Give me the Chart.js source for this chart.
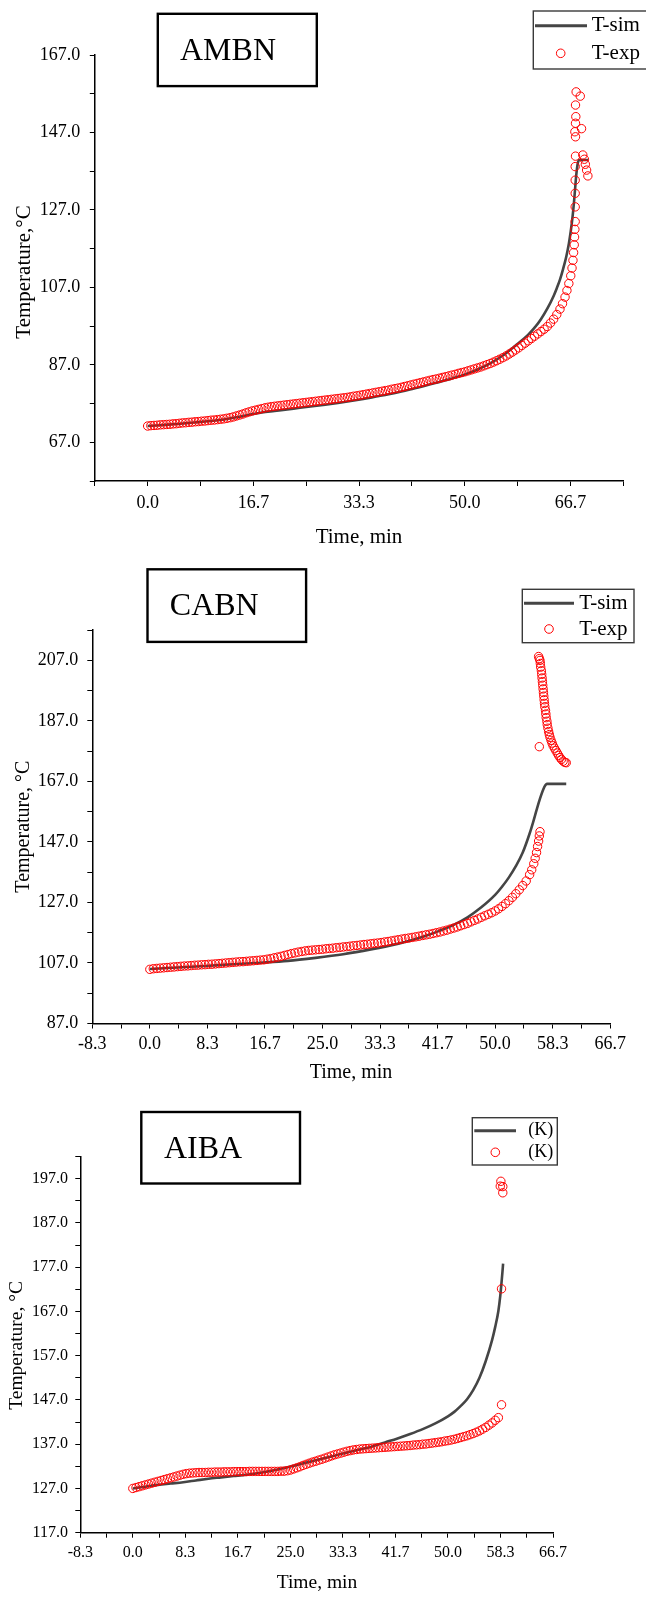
<!DOCTYPE html>
<html>
<head>
<meta charset="utf-8">
<script src="https://cdn.jsdelivr.net/npm/chart.js@4.4.0/dist/chart.umd.min.js"></script>
<style>
html,body{margin:0;padding:0;background:#fff;}
#wrap{position:relative;width:646px;height:1597px;overflow:hidden;background:#fff;}
canvas{position:absolute;left:0;}
</style>
</head>
<body>
<div id="wrap">
<canvas id="c1" width="646" height="550" style="top:0px;width:646px;height:550px"></canvas>
<canvas id="c2" width="646" height="540" style="top:550px;width:646px;height:540px"></canvas>
<canvas id="c3" width="646" height="507" style="top:1090px;width:646px;height:507px"></canvas>
</div>
<script>
// ================= DATA =================
// ---- AMBN (panel 1) ----
const ambnExpTime = [
0,0.5,1,1.5,2,2.5,3,3.5,4,4.5,
5,5.5,6,6.5,7,7.5,8,8.5,9,9.5,
10,10.5,11,11.5,12,12.5,13,13.5,14,14.5,
15,15.5,16,16.5,17,17.5,18,18.5,19,19.5,
20,20.5,21,21.5,22,22.5,23,23.5,24,24.5,
25,25.5,26,26.5,27,27.5,28,28.5,29,29.5,
30,30.5,31,31.5,32,32.5,33,33.5,34,34.5,
35,35.5,36,36.5,37,37.5,38,38.5,39,39.5,
40,40.5,41,41.5,42,42.5,43,43.5,44,44.5,
45,45.5,46,46.5,47,47.5,48,48.5,49,49.5,
50,50.5,51,51.5,52,52.5,53,53.5,54,54.5,
55,55.5,56,56.5,57,57.5,58,58.5,59,59.5,
60,60.5,61,61.5,62,62.5,63,63.5,64,64.5,
65,65.4,65.8,66.1,66.4,66.7,66.9,67.05,67.15,67.25,67.3,67.35,67.4,
67.4,67.4,67.4,67.4,67.45,67.45,67.35,67.45,67.5,67.45,67.55,68.2,68.4,68.6,68.85,69.0,69.2,69.4
];
const ambnExpTemp = [
71.2,71.3,71.35,71.4,71.5,71.55,71.6,71.65,71.75,71.8,
71.9,72.0,72.05,72.15,72.2,72.3,72.35,72.45,72.5,72.6,
72.7,72.75,72.85,72.95,73.05,73.2,73.35,73.55,73.8,74.05,
74.3,74.6,74.85,75.1,75.3,75.5,75.7,75.9,76.05,76.2,
76.3,76.4,76.5,76.6,76.7,76.8,76.9,77.0,77.1,77.2,
77.3,77.4,77.5,77.6,77.7,77.8,77.9,78.0,78.1,78.2,
78.3,78.4,78.5,78.6,78.75,78.9,79.0,79.15,79.3,79.45,
79.6,79.75,79.9,80.05,80.2,80.35,80.5,80.7,80.85,81.0,
81.2,81.4,81.6,81.8,82.0,82.2,82.4,82.6,82.8,83.0,
83.2,83.35,83.55,83.75,83.95,84.15,84.35,84.55,84.8,85.0,
85.2,85.45,85.7,85.95,86.2,86.45,86.75,87.05,87.35,87.7,
88.05,88.45,88.85,89.3,89.8,90.3,90.85,91.4,92.0,92.6,
93.2,93.8,94.4,95.0,95.6,96.2,96.9,97.8,98.8,100.0,
101.4,102.8,104.5,106.2,108.0,110.0,112.0,114.0,116.0,118.0,120.0,122.0,124.0,
127.8,131.3,134.7,138.2,140.9,145.9,147.2,149.4,151.1,154.1,157.5,156.4,148.0,141.2,140.1,138.8,137.3,135.8
];
const ambnSimTime = [0,2,4,6,8,10,12,14,16,18,20,22,24,26,28,30,32,34,36,38,40,42,44,46,48,50,52,54,56,58,60,61,62,63,64,64.5,65,65.5,66,66.4,66.7,67,67.2,67.4,67.6,67.8,68.0,69.5];
const ambnSimTemp = [71.2,71.4,71.65,71.9,72.2,72.5,72.9,73.45,74.1,74.7,75.1,75.5,75.9,76.3,76.7,77.15,77.65,78.2,78.8,79.4,80.1,80.9,81.7,82.6,83.5,84.5,85.8,87.4,89.4,92.0,94.8,96.6,98.8,101.5,104.8,106.8,109.0,111.8,115.0,118.3,121.5,125.5,128.8,132.8,136.5,139.0,139.9,139.9];
const ambnXMajor = [0, 16.667, 33.333, 50, 66.667];
const ambnXLabels = ['0.0','16.7','33.3','50.0','66.7'];
const ambnXMinor = [-8.333, 8.333, 25, 41.667, 58.333, 75];
const ambnYMajor = [67, 87, 107, 127, 147, 167];
const ambnYLabels = ['67.0','87.0','107.0','127.0','147.0','167.0'];
const ambnYMinor = [57, 77, 97, 117, 137, 157];

// ---- CABN (panel 2) ----
const cabnExpTime = [
0,0.5,1,1.5,2,2.5,3,3.5,4,4.5,
5,5.5,6,6.5,7,7.5,8,8.5,9,9.5,
10,10.5,11,11.5,12,12.5,13,13.5,14,14.5,
15,15.5,16,16.5,17,17.5,18,18.5,19,19.5,
20,20.5,21,21.5,22,22.5,23,23.5,24,24.5,
25,25.5,26,26.5,27,27.5,28,28.5,29,29.5,
30,30.5,31,31.5,32,32.5,33,33.5,34,34.5,
35,35.5,36,36.5,37,37.5,38,38.5,39,39.5,
40,40.5,41,41.5,42,42.5,43,43.5,44,44.5,
45,45.5,46,46.5,47,47.5,48,48.5,49,49.5,
50,50.5,51,51.5,52,52.5,53,53.5,54,54.5,
55,55.3,55.6,55.8,56.0,56.15,56.3,56.4,56.5,
56.3,56.4,56.5,56.55,56.6,56.7,56.75,56.8,56.85,56.9,56.95,57.0,57.05,57.1,57.15,57.2,57.3,57.35,57.4,57.5,57.55,57.65,57.75,57.85,57.95,58.1,58.25,58.4,58.6,58.8,59.0,59.2,59.4,59.6,59.85,60.1,60.3,
56.4
];
const cabnExpTemp = [
104.9,105.1,105.2,105.3,105.4,105.5,105.6,105.7,105.8,105.9,
106.0,106.05,106.15,106.25,106.3,106.4,106.45,106.55,106.6,106.7,
106.8,106.9,107.0,107.1,107.2,107.3,107.4,107.45,107.55,107.65,
107.75,107.85,107.95,108.05,108.25,108.45,108.7,108.95,109.2,109.5,
109.8,110.1,110.35,110.6,110.8,111.0,111.15,111.25,111.35,111.45,
111.55,111.7,111.8,111.9,112.05,112.15,112.3,112.4,112.55,112.7,
112.8,112.95,113.1,113.2,113.35,113.5,113.6,113.75,113.95,114.1,
114.3,114.5,114.7,114.9,115.1,115.25,115.45,115.65,115.85,116.1,
116.3,116.5,116.75,117.0,117.25,117.55,117.85,118.2,118.55,118.9,
119.3,119.7,120.1,120.6,121.1,121.55,122.1,122.6,123.1,123.6,
124.2,124.9,125.7,126.6,127.6,128.7,129.9,131.2,132.6,134.1,
136.2,137.8,139.8,141.6,143.5,145.5,147.3,149.0,150.4,
208.3,207.6,207.0,206.0,204.8,203.6,202.4,201.2,200.0,198.8,197.6,196.4,195.2,194.0,192.8,191.7,190.5,189.3,188.1,186.9,185.8,184.6,183.5,182.5,181.6,180.6,179.7,178.8,178.0,177.2,176.4,175.6,174.9,174.3,173.7,173.3,173.2,
178.5
];
const cabnSimTime = [0,4,8,12,16,20,24,28,32,36,38,40,42,44,46,48,50,51,52,53,54,55,55.5,56,56.5,57,57.3,57.5,60.3];
const cabnSimTemp = [105.0,105.5,106.0,106.6,107.1,107.7,108.7,109.9,111.5,113.4,114.6,116.0,117.7,119.6,122.1,125.4,129.5,132.2,135.3,139.0,143.5,149.8,153.5,157.5,161.3,164.5,165.8,166.2,166.2];
const cabnXMajor = [-8.333, 0, 8.333, 16.667, 25, 33.333, 41.667, 50, 58.333, 66.667];
const cabnXLabels = ['-8.3','0.0','8.3','16.7','25.0','33.3','41.7','50.0','58.3','66.7'];
const cabnXMinor = [-4.167, 4.167, 12.5, 20.833, 29.167, 37.5, 45.833, 54.167, 62.5];
const cabnYMajor = [87, 107, 127, 147, 167, 187, 207];
const cabnYLabels = ['87.0','107.0','127.0','147.0','167.0','187.0','207.0'];
const cabnYMinor = [97, 117, 137, 157, 177, 197, 217];

// ---- AIBA (panel 3) ----
const aibaExpTime = [
0,0.5,1,1.5,2,2.5,3,3.5,4,4.5,
5,5.5,6,6.5,7,7.5,8,8.5,9,9.5,
10,10.5,11,11.5,12,12.5,13,13.5,14,14.5,
15,15.5,16,16.5,17,17.5,18,18.5,19,19.5,
20,20.5,21,21.5,22,22.5,23,23.5,24,24.5,
25,25.5,26,26.5,27,27.5,28,28.5,29,29.5,
30,30.5,31,31.5,32,32.5,33,33.5,34,34.5,
35,35.5,36,36.5,37,37.5,38,38.5,39,39.5,
40,40.5,41,41.5,42,42.5,43,43.5,44,44.5,
45,45.5,46,46.5,47,47.5,48,48.5,49,49.5,
50,50.5,51,51.5,52,52.5,53,53.5,54,54.5,
55,55.5,56,56.5,57,57.5,58,
58.5,58.5,58.4,58.3,58.7,58.7
];
const aibaExpTemp = [
127.0,127.2,127.4,127.6,127.8,128.0,128.2,128.4,128.6,128.8,
129.0,129.2,129.4,129.6,129.8,130.0,130.2,130.35,130.45,130.5,
130.55,130.6,130.6,130.6,130.65,130.65,130.7,130.7,130.7,130.75,
130.75,130.75,130.8,130.8,130.8,130.8,130.8,130.85,130.85,130.85,
130.85,130.85,130.85,130.85,130.85,130.85,130.85,130.9,130.9,131.0,
131.15,131.4,131.65,131.9,132.2,132.45,132.7,132.95,133.15,133.4,
133.6,133.85,134.1,134.35,134.6,134.8,135.0,135.2,135.4,135.55,
135.7,135.8,135.9,135.95,136.0,136.05,136.1,136.15,136.2,136.25,
136.3,136.35,136.4,136.45,136.5,136.55,136.6,136.65,136.7,136.8,
136.85,136.9,137.0,137.05,137.15,137.25,137.35,137.45,137.55,137.7,
137.8,137.95,138.1,138.3,138.5,138.7,138.9,139.15,139.4,139.7,
140.0,140.4,140.8,141.3,141.8,142.4,143.0,
145.9,172.1,196.4,195.3,195.2,193.8
];
const aibaSimTime = [0,2,4,6,8,10,12,14,16,18,20,22,24,26,28,30,32,34,36,38,40,42,44,46,48,50,51,52,53,54,55,56,57,57.5,58,58.3,58.5,58.65,58.75];
const aibaSimTemp = [127.0,127.4,127.8,128.1,128.4,128.8,129.2,129.5,129.8,130.1,130.5,131.0,131.6,132.3,133.0,133.7,134.4,135.1,135.8,136.5,137.4,138.3,139.3,140.4,141.7,143.3,144.3,145.6,147.1,149.2,152.0,155.8,160.5,163.5,167.1,170.5,173.5,176.0,177.8];
const aibaXMajor = [-8.333, 0, 8.333, 16.667, 25, 33.333, 41.667, 50, 58.333, 66.667];
const aibaXLabels = ['-8.3','0.0','8.3','16.7','25.0','33.3','41.7','50.0','58.3','66.7'];
const aibaXMinor = [-4.167, 4.167, 12.5, 20.833, 29.167, 37.5, 45.833, 54.167, 62.5];
const aibaYMajor = [117, 127, 137, 147, 157, 167, 177, 187, 197];
const aibaYLabels = ['117.0','127.0','137.0','147.0','157.0','167.0','177.0','187.0','197.0'];
const aibaYMinor = [122, 132, 142, 152, 162, 172, 182, 192, 202];

// ================= RENDERING =================
Chart.defaults.font.family = '"Liberation Serif", "Times New Roman", serif';
Chart.defaults.color = '#000';

const decorPlugin = {
  id: 'decor',
  afterDraw(chart, args, o) {
    const ctx = chart.ctx;
    const off = o.offset;
    ctx.save();
    // sample title box
    const b = o.box;
    ctx.lineWidth = 2.4; ctx.strokeStyle = '#000';
    ctx.strokeRect(b.x1, b.y1 - off, b.x2 - b.x1, b.y2 - b.y1);
    ctx.fillStyle = '#000';
    ctx.font = '32px "Liberation Serif"';
    ctx.textBaseline = 'middle'; ctx.textAlign = 'left';
    ctx.fillText(b.text, b.tx, b.ty - off);
    // legend
    const L = o.legend;
    const ds = chart.data.datasets;
    const exp = ds[0], sim = ds[1];
    ctx.lineWidth = 1.4; ctx.strokeStyle = '#3a3a3a';
    ctx.strokeRect(L.x1, L.y1 - off, L.x2 - L.x1, L.y2 - L.y1);
    ctx.strokeStyle = sim.borderColor; ctx.lineWidth = 3;
    ctx.beginPath(); ctx.moveTo(L.lx1, L.ly1 - off); ctx.lineTo(L.lx2, L.ly1 - off); ctx.stroke();
    ctx.strokeStyle = exp.pointBorderColor; ctx.lineWidth = 1;
    ctx.beginPath(); ctx.arc(L.cx, L.ly2 - off, 4.3, 0, Math.PI * 2); ctx.stroke();
    ctx.fillStyle = '#000'; ctx.font = L.font;
    ctx.fillText(sim.label, L.tx, L.ly1 - off);
    ctx.fillText(exp.label, L.tx, L.ly2 - off);
    // axis titles
    ctx.font = o.axisFont; ctx.textAlign = 'center';
    ctx.fillText(o.xTitle, o.xtx, o.xty - off);
    ctx.translate(o.ytx, o.yty - off);
    ctx.rotate(-Math.PI / 2);
    ctx.fillText(o.yTitle, 0, 0);
    ctx.restore();
  }
};

function labelFor(v, majors, labels) {
  for (let i = 0; i < majors.length; i++) {
    if (Math.abs(majors[i] - v) < 1e-6) return labels[i];
  }
  return '';
}

function makeChart(id, c) {
  const canvas = document.getElementById(id);
  const H = canvas.height;
  const exp = c.expTime.map((t, i) => ({ x: t, y: c.expTemp[i] }));
  const sim = c.simTime.map((t, i) => ({ x: t, y: c.simTemp[i] }));
  const xTicks = c.xMajor.concat(c.xMinor).sort((a, b) => a - b);
  const yTicks = c.yMajor.concat(c.yMinor).sort((a, b) => a - b);
  const tickFont = { family: '"Liberation Serif"', size: c.tickSize };
  const grid = { display: true, drawOnChartArea: false, drawTicks: true, tickLength: 5, color: '#000', lineWidth: 1 };
  const border = { display: true, color: '#000', width: 1.5 };
  return new Chart(canvas, {
    type: 'scatter',
    data: {
      datasets: [
        { label: c.expLabel, data: exp, showLine: false, pointRadius: 4.2, pointBorderWidth: 1,
          pointBorderColor: 'rgb(255,0,0)', pointBackgroundColor: 'rgba(0,0,0,0)', clip: false, order: 0 },
        { label: c.simLabel, data: sim, showLine: true, borderColor: '#454545', borderWidth: 2.6,
          pointRadius: 0, fill: false, cubicInterpolationMode: 'monotone', clip: false, order: 1 }
      ]
    },
    options: {
      responsive: false, animation: false, events: [], devicePixelRatio: 1,
      layout: { padding: { left: 0, top: c.area.top, right: 646 - c.area.right, bottom: 0 } },
      plugins: { legend: { display: false }, tooltip: { enabled: false }, decor: c.decor },
      scales: {
        x: {
          type: 'linear', min: c.xMin, max: c.xMax,
          afterBuildTicks: s => { s.ticks = xTicks.map(v => ({ value: v })); },
          afterFit: s => { s.height = H - c.area.bottom; s.paddingLeft = 0; s.paddingRight = 0; },
          ticks: { autoSkip: false, maxRotation: 0, minRotation: 0, padding: c.xPad, color: '#000', font: tickFont,
                   callback: v => labelFor(v, c.xMajor, c.xLabels) },
          grid: grid, border: border
        },
        y: {
          type: 'linear', min: c.yMin, max: c.yMax,
          afterBuildTicks: s => { s.ticks = yTicks.map(v => ({ value: v })); },
          afterFit: s => { s.width = c.area.left; s.paddingTop = 0; s.paddingBottom = 0; },
          ticks: { autoSkip: false, padding: c.yPad, color: '#000', font: tickFont,
                   callback: v => labelFor(v, c.yMajor, c.yLabels) },
          grid: grid, border: border
        }
      }
    },
    plugins: [decorPlugin]
  });
}

makeChart('c1', {
  expTime: ambnExpTime, expTemp: ambnExpTemp, simTime: ambnSimTime, simTemp: ambnSimTemp,
  expLabel: 'T-exp', simLabel: 'T-sim',
  xMin: -8.333, xMax: 75, yMin: 57, yMax: 167,
  xMajor: ambnXMajor, xLabels: ambnXLabels, xMinor: ambnXMinor,
  yMajor: ambnYMajor, yLabels: ambnYLabels, yMinor: ambnYMinor,
  area: { left: 94.8, top: 55.1, right: 623.4, bottom: 481 },
  tickSize: 18, xPad: 6.6, yPad: 9.5,
  decor: {
    offset: 0,
    box: { x1: 157.8, y1: 13.8, x2: 316.8, y2: 86.1, text: 'AMBN', tx: 180, ty: 51.6 },
    legend: { x1: 533.3, y1: 11, x2: 650, y2: 69, lx1: 535, lx2: 587, ly1: 25.7, ly2: 53.3, cx: 560.7, tx: 591.7, font: '21px "Liberation Serif"' },
    axisFont: '21px "Liberation Serif"',
    xTitle: 'Time, min', xtx: 359, xty: 537,
    yTitle: 'Temperature,°C', ytx: 24.3, yty: 272
  }
});

makeChart('c2', {
  expTime: cabnExpTime, expTemp: cabnExpTemp, simTime: cabnSimTime, simTemp: cabnSimTemp,
  expLabel: 'T-exp', simLabel: 'T-sim',
  xMin: -8.333, xMax: 66.667, yMin: 87, yMax: 217,
  xMajor: cabnXMajor, xLabels: cabnXLabels, xMinor: cabnXMinor,
  yMajor: cabnYMajor, yLabels: cabnYLabels, yMinor: cabnYMinor,
  area: { left: 92.3, top: 80.2, right: 610.2, bottom: 473.5 },
  tickSize: 18, xPad: 5.2, yPad: 9,
  decor: {
    offset: 550,
    box: { x1: 147.5, y1: 569.3, x2: 306.1, y2: 641.9, text: 'CABN', tx: 169.8, ty: 606.8 },
    legend: { x1: 522.3, y1: 589.3, x2: 634, y2: 642.7, lx1: 524, lx2: 574, ly1: 603.3, ly2: 629, cx: 549, tx: 579.3, font: '21px "Liberation Serif"' },
    axisFont: '20px "Liberation Serif"',
    xTitle: 'Time, min', xtx: 351, xty: 1072.5,
    yTitle: 'Temperature, °C', ytx: 23.3, yty: 826.6
  }
});

makeChart('c3', {
  expTime: aibaExpTime, expTemp: aibaExpTemp, simTime: aibaSimTime, simTemp: aibaSimTemp,
  expLabel: '(K)', simLabel: '(K)',
  xMin: -8.333, xMax: 66.667, yMin: 117, yMax: 202,
  xMajor: aibaXMajor, xLabels: aibaXLabels, xMinor: aibaXMinor,
  yMajor: aibaYMajor, yLabels: aibaYLabels, yMinor: aibaYMinor,
  area: { left: 80.3, top: 66.5, right: 553, bottom: 442.7 },
  tickSize: 16, xPad: 5.7, yPad: 7.3,
  decor: {
    offset: 1090,
    box: { x1: 141.3, y1: 1112, x2: 300, y2: 1183.5, text: 'AIBA', tx: 164, ty: 1149.7 },
    legend: { x1: 472.3, y1: 1117.7, x2: 557.3, y2: 1165, lx1: 474.3, lx2: 516, ly1: 1130.7, ly2: 1152.3, cx: 495.3, tx: 528.3, font: '18px "Liberation Serif"' },
    axisFont: '19.5px "Liberation Serif"',
    xTitle: 'Time, min', xtx: 317, xty: 1582.8,
    yTitle: 'Temperature, °C', ytx: 17, yty: 1345.4
  }
});
</script>
</body>
</html>
